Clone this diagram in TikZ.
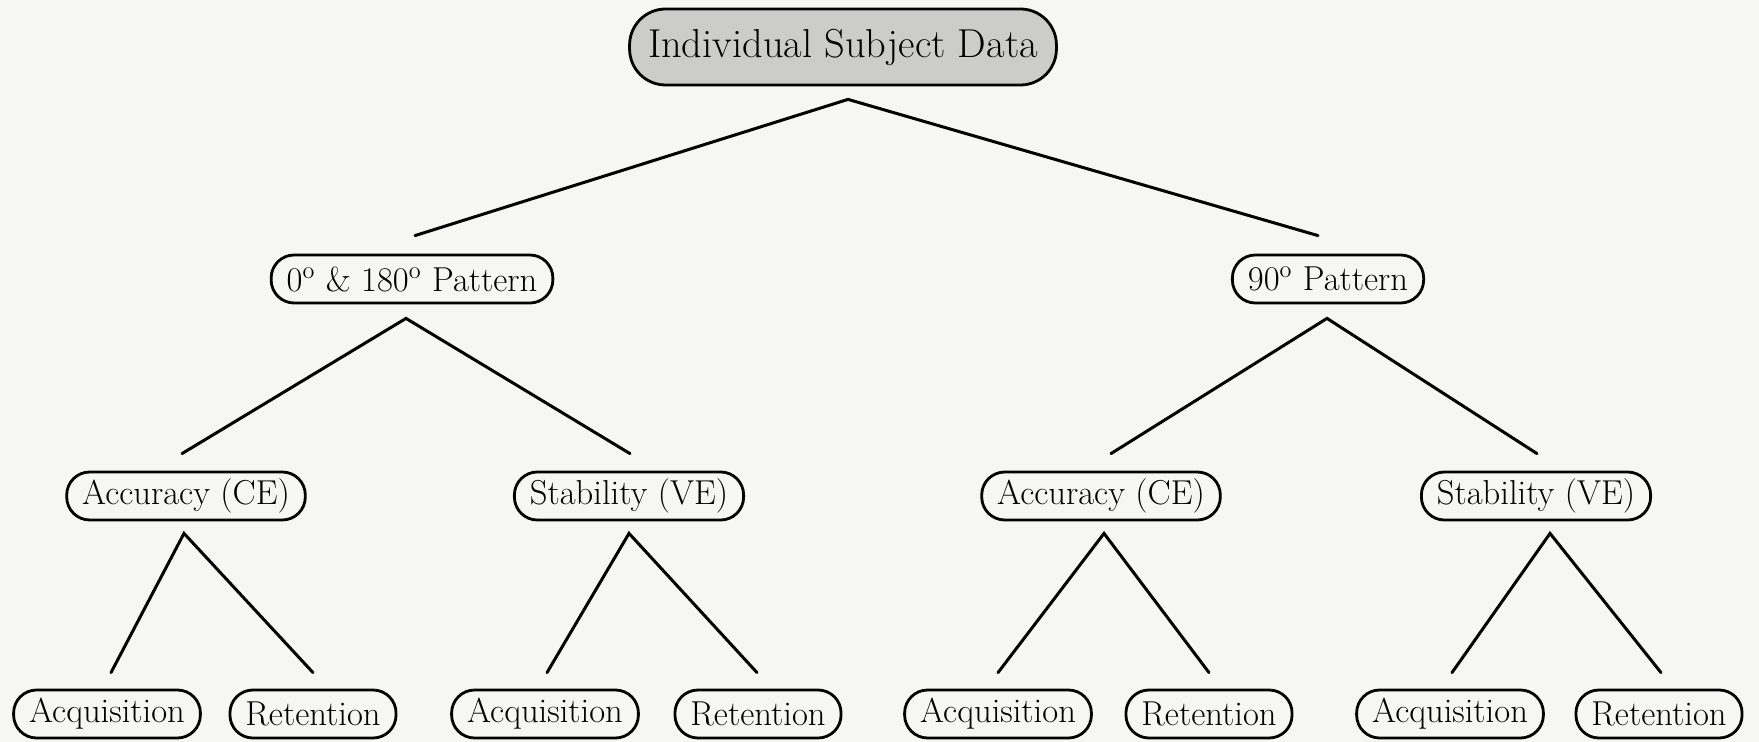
\documentclass[tikz,border=0pt]{standalone}
\usetikzlibrary{calc}
\definecolor{paper}{RGB}{246,246,244}
\definecolor{shade}{RGB}{204,204,202}
\begin{document}
\begin{tikzpicture}[x=0.5pt,y=-0.5pt,
  box/.style={draw, line width=1.4pt, rounded corners=11.5pt, minimum height=24pt,
    inner xsep=7.75pt, inner ysep=2pt, font=\fontsize{17.3}{20}\selectfont},
  rootbox/.style={box, fill=shade, minimum height=38pt, rounded corners=18pt,
    inner xsep=9.25pt, font=\fontsize{20.2}{24}\selectfont},
  branch/.style={line width=1.5pt, line cap=round}]
  \fill[paper] (0,0) rectangle (1759,742);
  \useasboundingbox (0,0) rectangle (1759,742);

  % tree nodes
  \node[rootbox] (root) at (843,47) {Individual Subject Data};
  \node[box] (p0)  at (412,279)  {0\textsuperscript{o} \& 180\textsuperscript{o} Pattern};
  \node[box] (p90) at (1328,279) {90\textsuperscript{o} Pattern};

  \node[box] (acc1)  at (186,496)  {Accuracy (CE)};
  \node[box] (stab1) at (629,496)  {Stability (VE)};
  \node[box] (acc2)  at (1101,496) {Accuracy (CE)};
  \node[box] (stab2) at (1536,496) {Stability (VE)};

  \node[box] (aq1) at (107,714)  {Acquisition};
  \node[box] (re1) at (313,714)  {Retention};
  \node[box] (aq2) at (545,714)  {Acquisition};
  \node[box] (re2) at (758,714)  {Retention};
  \node[box] (aq3) at (998,714)  {Acquisition};
  \node[box] (re3) at (1209,714) {Retention};
  \node[box] (aq4) at (1450,714) {Acquisition};
  \node[box] (re4) at (1659,714) {Retention};

  % fork points under each parent and line ends above each child
  \coordinate (root-f)  at ($(root.south)+(5,13)$);
  \coordinate (p0-f)    at ($(p0.south)+(-6,14)$);
  \coordinate (p90-f)   at ($(p90.south)+(-1,14)$);
  \coordinate (acc1-f)  at ($(acc1.south)+(-2,12)$);
  \coordinate (stab1-f) at ($(stab1.south)+(0,12)$);
  \coordinate (acc2-f)  at ($(acc2.south)+(3,12)$);
  \coordinate (stab2-f) at ($(stab2.south)+(14,12)$);

  \coordinate (p0-t)    at ($(p0.north)+(3,-18)$);
  \coordinate (p90-t)   at ($(p90.north)+(-10,-18)$);
  \coordinate (acc1-t)  at ($(acc1.north)+(-4,-17)$);
  \coordinate (stab1-t) at ($(stab1.north)+(1,-17)$);
  \coordinate (acc2-t)  at ($(acc2.north)+(10,-17)$);
  \coordinate (stab2-t) at ($(stab2.north)+(1,-17)$);
  \coordinate (aq1-t) at ($(aq1.north)+(4,-16)$);
  \coordinate (re1-t) at ($(re1.north)+(0,-16)$);
  \coordinate (aq2-t) at ($(aq2.north)+(2,-16)$);
  \coordinate (re2-t) at ($(re2.north)+(-1,-16)$);
  \coordinate (aq3-t) at ($(aq3.north)+(0,-16)$);
  \coordinate (re3-t) at ($(re3.north)+(0,-16)$);
  \coordinate (aq4-t) at ($(aq4.north)+(2,-16)$);
  \coordinate (re4-t) at ($(re4.north)+(2,-16)$);

  % branches
  \draw[branch] (p0-t) -- (root-f) -- (p90-t);
  \draw[branch] (acc1-t) -- (p0-f) -- (stab1-t);
  \draw[branch] (acc2-t) -- (p90-f) -- (stab2-t);
  \draw[branch] (aq1-t) -- (acc1-f) -- (re1-t);
  \draw[branch] (aq2-t) -- (stab1-f) -- (re2-t);
  \draw[branch] (aq3-t) -- (acc2-f) -- (re3-t);
  \draw[branch] (aq4-t) -- (stab2-f) -- (re4-t);
\end{tikzpicture}
\end{document}
